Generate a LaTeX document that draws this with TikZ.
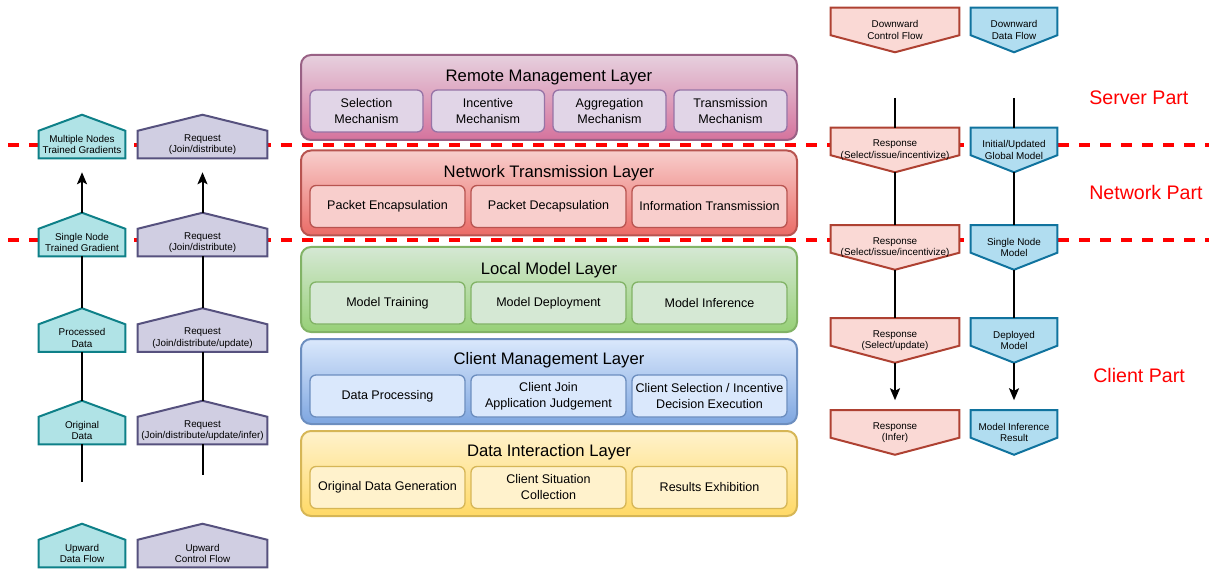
\documentclass[tikz,border=0pt]{standalone}
\usepackage{fontspec}
\setmainfont{Liberation Sans}
\usetikzlibrary{arrows.meta,backgrounds}

\definecolor{rmtop}{HTML}{E6D0DE}
\definecolor{rmbot}{HTML}{D5739D}
\definecolor{rmline}{HTML}{996185}
\definecolor{rmfill}{HTML}{E1D5E7}
\definecolor{rmunit}{HTML}{9673A6}
\definecolor{nttop}{HTML}{F8CECC}
\definecolor{ntbot}{HTML}{EA6B66}
\definecolor{ntline}{HTML}{B85450}
\definecolor{lmtop}{HTML}{D5E8D4}
\definecolor{lmbot}{HTML}{97D077}
\definecolor{lmline}{HTML}{82B366}
\definecolor{cmtop}{HTML}{DAE8FC}
\definecolor{cmbot}{HTML}{7EA6E0}
\definecolor{cmline}{HTML}{6C8EBF}
\definecolor{ditop}{HTML}{FFF2CC}
\definecolor{dibot}{HTML}{FFD966}
\definecolor{diline}{HTML}{D6B656}
\definecolor{udfill}{HTML}{B0E3E6}
\definecolor{udline}{HTML}{0E8088}
\definecolor{ucfill}{HTML}{D0CEE2}
\definecolor{ucline}{HTML}{56517E}
\definecolor{dcfill}{HTML}{FAD9D5}
\definecolor{dcline}{HTML}{AE4132}
\definecolor{ddfill}{HTML}{B1DDF0}
\definecolor{ddline}{HTML}{10739E}

\tikzstyle{layerbox} = [rectangle, rounded corners=7.5pt, line width=1.5pt, minimum width=372pt, minimum height=63.75pt]
\tikzstyle{layertitle} = [inner sep=0pt, font=\fontsize{12.5}{15}\selectfont]
\tikzstyle{unitbox} = [rectangle, rounded corners=4.5pt, line width=1pt, minimum height=31.5pt, inner sep=0pt, align=center, font=\fontsize{9.4}{12}\selectfont]
\tikzstyle{upbox} = [rectangle, inner sep=0pt, minimum height=20.25pt, align=center, font=\fontsize{7.4}{8.7}\selectfont]
\tikzstyle{downbox} = [rectangle, inner sep=0pt, minimum height=33pt, align=center, font=\fontsize{7.4}{8.7}\selectfont]
\tikzstyle{shapeline} = [line width=1.5pt, line join=miter]
\tikzstyle{flowline} = [line width=1.5pt, black]
\tikzstyle{flowarrow} = [flowline, -{Stealth[length=9pt,width=7.5pt,inset=2pt]}]
\tikzstyle{divider} = [line width=3pt, red, dash pattern=on 8.25pt off 7.5pt]
\tikzstyle{partlabel} = [text=red, anchor=west, inner sep=0pt, font=\fontsize{14.7}{17}\selectfont]

\begin{document}
\begin{tikzpicture}[x=0.75pt,y=-0.75pt]
	\useasboundingbox (0,0) rectangle (1209,570);
	
	% layers
	\node[layerbox, draw=rmline, top color=rmtop, bottom color=rmbot] (remote) at (549,97.5) {};
	\node[layerbox, draw=ntline, top color=nttop, bottom color=ntbot] (network) at (549,193) {};
	\node[layerbox, draw=lmline, top color=lmtop, bottom color=lmbot] (local) at (549,289.5) {};
	\node[layerbox, draw=cmline, top color=cmtop, bottom color=cmbot] (client) at (549,381.5) {};
	\node[layerbox, draw=diline, top color=ditop, bottom color=dibot] (data) at (549,473.5) {};
	
	\node[layertitle] (remotet) at (549,77) {Remote Management Layer};
	\node[layertitle] (networkt) at (549,173.3) {Network Transmission Layer};
	\node[layertitle] (localt) at (549,269.7) {Local Model Layer};
	\node[layertitle] (clientt) at (549,360.5) {Client Management Layer};
	\node[layertitle] (datat) at (549,452.5) {Data Interaction Layer};
	
	\node[unitbox, fill=rmfill, draw=rmunit, minimum width=84.75pt] (rm1) at (366.5,111) {Selection\\Mechanism};
	\node[unitbox, fill=rmfill, draw=rmunit, minimum width=84.75pt] (rm2) at (488,111) {Incentive\\Mechanism};
	\node[unitbox, fill=rmfill, draw=rmunit, minimum width=84.75pt] (rm3) at (609.5,111) {Aggregation\\Mechanism};
	\node[unitbox, fill=rmfill, draw=rmunit, minimum width=84.75pt] (rm4) at (730.5,111) {Transmission\\Mechanism};
	
	\node[unitbox, fill=nttop, draw=ntline, minimum width=116.25pt] (nt1) at (387.5,206.5) {Packet Encapsulation};
	\node[unitbox, fill=nttop, draw=ntline, minimum width=116.25pt] (nt2) at (548.5,206.5) {Packet Decapsulation};
	\node[unitbox, fill=nttop, draw=ntline, minimum width=116.25pt] (nt3) at (709.5,206.5) {Information Transmission};
	
	\node[unitbox, fill=lmtop, draw=lmline, minimum width=116.25pt] (lm1) at (387.5,303) {Model Training};
	\node[unitbox, fill=lmtop, draw=lmline, minimum width=116.25pt] (lm2) at (548.5,303) {Model Deployment};
	\node[unitbox, fill=lmtop, draw=lmline, minimum width=116.25pt] (lm3) at (709.5,303) {Model Inference};
	
	\node[unitbox, fill=cmtop, draw=cmline, minimum width=116.25pt] (cm1) at (387.5,396) {Data Processing};
	\node[unitbox, fill=cmtop, draw=cmline, minimum width=116.25pt] (cm2) at (548.5,396) {Client Join\\Application Judgement};
	\node[unitbox, fill=cmtop, draw=cmline, minimum width=116.25pt] (cm3) at (709.5,396) {Client Selection / Incentive\\Decision Execution};
	
	\node[unitbox, fill=ditop, draw=diline, minimum width=116.25pt] (di1) at (387.5,487.5) {Original Data Generation};
	\node[unitbox, fill=ditop, draw=diline, minimum width=116.25pt] (di2) at (548.5,487.5) {Client Situation\\Collection};
	\node[unitbox, fill=ditop, draw=diline, minimum width=116.25pt] (di3) at (709.5,487.5) {Results Exhibition};
	
	% upward flows
	\node[upbox, minimum width=64.5pt] (ud1) at (82,144.5) {Multiple Nodes\\Trained Gradients};
	\node[upbox, minimum width=64.5pt] (ud2) at (82,242.5) {Single Node\\Trained Gradient};
	\node[upbox, minimum width=64.5pt] (ud3) at (82,338) {Processed\\Data};
	\node[upbox, minimum width=64.5pt] (ud4) at (82,430.5) {Original\\Data};
	\node[upbox, minimum width=64.5pt] (ud5) at (82,553.5) {Upward\\Data Flow};
	
	\node[upbox, minimum width=96.75pt] (uc1) at (202.5,144.5) {Request\\(Join/distribute)};
	\node[upbox, minimum width=96.75pt] (uc2) at (202.5,242.5) {Request\\(Join/distribute)};
	\node[upbox, minimum width=96.75pt] (uc3) at (202.5,338) {Request\\(Join/distribute/update)};
	\node[upbox, minimum width=96.75pt] (uc4) at (202.5,430.5) {Request\\(Join/distribute/update/infer)};
	\node[upbox, minimum width=96.75pt] (uc5) at (202.5,553.5) {Upward\\Control Flow};
	
	% downward flows
	\node[downbox, minimum width=96pt] (dc1) at (895,30) {Downward\\Control Flow};
	\node[downbox, minimum width=96pt] (dc2) at (895,150) {Response\\(Select/issue/incentivize)};
	\node[downbox, minimum width=96pt] (dc3) at (895,247.5) {Response\\(Select/issue/incentivize)};
	\node[downbox, minimum width=96pt] (dc4) at (895,340.5) {Response\\(Select/update)};
	\node[downbox, minimum width=96pt] (dc5) at (895,432.5) {Response\\(Infer)};
	
	\node[downbox, minimum width=64.5pt] (dd1) at (1014,30) {Downward\\Data Flow};
	\node[downbox, minimum width=64.5pt] (dd2) at (1014,150) {Initial/Updated\\Global Model};
	\node[downbox, minimum width=64.5pt] (dd3) at (1014,247.5) {Single Node\\Model};
	\node[downbox, minimum width=64.5pt] (dd4) at (1014,340.5) {Deployed\\Model};
	\node[downbox, minimum width=64.5pt] (dd5) at (1014,432.5) {Model Inference\\Result};
	
	\node[partlabel] (server) at (1089,97.5) {Server Part};
	\node[partlabel] (netpart) at (1089,192.5) {Network Part};
	\node[partlabel] (clientpart) at (1093,375.5) {Client Part};
	
	\begin{scope}[on background layer]
		\draw[divider] (8,145) -- (1209,145);
		\draw[divider] (8,240) -- (1209,240);
		\foreach \n in {ud1,ud2,ud3,ud4,ud5}
			\draw[shapeline, fill=udfill, draw=udline] (\n.south west) -- (\n.south east) -- (\n.north east) -- ([yshift=12pt]\n.north) -- (\n.north west) -- cycle;
		\foreach \n in {uc1,uc2,uc3,uc4,uc5}
			\draw[shapeline, fill=ucfill, draw=ucline] (\n.south west) -- (\n.south east) -- (\n.north east) -- ([yshift=12pt]\n.north) -- (\n.north west) -- cycle;
		\foreach \n in {dc1,dc2,dc3,dc4,dc5}
			\draw[shapeline, fill=dcfill, draw=dcline] (\n.north west) -- (\n.north east) -- ([yshift=12.75pt]\n.south east) -- (\n.south) -- ([yshift=12.75pt]\n.south west) -- cycle;
		\foreach \n in {dd1,dd2,dd3,dd4,dd5}
			\draw[shapeline, fill=ddfill, draw=ddline] (\n.north west) -- (\n.north east) -- ([yshift=12.75pt]\n.south east) -- (\n.south) -- ([yshift=12.75pt]\n.south west) -- cycle;
	\end{scope}
	
	% connectors
	\coordinate (udend) at (82,482);
	\coordinate (ucend) at (202.5,475);
	\coordinate (dctop) at (895,98);
	\coordinate (ddtop) at (1014,98);
	
	\draw[flowarrow] ([yshift=12pt]ud2.north) -- ([yshift=-10.5pt]ud1.south);
	\draw[flowline] ([yshift=12pt]ud3.north) -- (ud2.south);
	\draw[flowline] ([yshift=12pt]ud4.north) -- (ud3.south);
	\draw[flowline] (ud4.south) -- (udend);
	
	\draw[flowarrow] ([yshift=12pt]uc2.north) -- ([yshift=-10.5pt]uc1.south);
	\draw[flowline] ([yshift=12pt]uc3.north) -- (uc2.south);
	\draw[flowline] ([yshift=12pt]uc4.north) -- (uc3.south);
	\draw[flowline] (uc4.south) -- (ucend);
	
	\draw[flowline] (dctop) -- (dc2.north);
	\draw[flowline] (dc2.south) -- (dc3.north);
	\draw[flowline] (dc3.south) -- (dc4.north);
	\draw[flowarrow] (dc4.south) -- ([yshift=7.5pt]dc5.north);
	
	\draw[flowline] (ddtop) -- (dd2.north);
	\draw[flowline] (dd2.south) -- (dd3.north);
	\draw[flowline] (dd3.south) -- (dd4.north);
	\draw[flowarrow] (dd4.south) -- ([yshift=7.5pt]dd5.north);
\end{tikzpicture}
\end{document}
